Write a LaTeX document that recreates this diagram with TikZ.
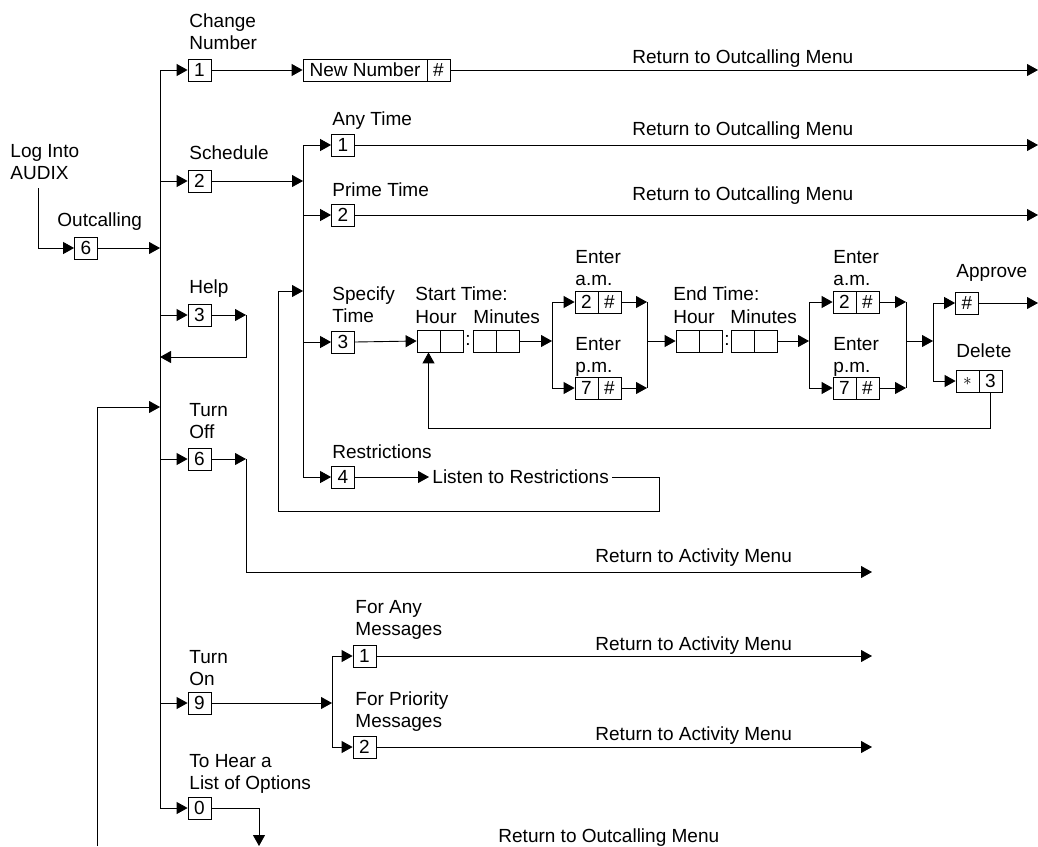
\documentclass[tikz,border=0pt]{standalone}
\usepackage{fontspec}
\setmainfont{Liberation Sans}
\usetikzlibrary{arrows.meta}

\begin{document}
\begin{tikzpicture}[x=1pt, y=-1pt, line width=0.9pt,
    every node/.style={font=\fontsize{19}{22}\selectfont},
    keybox/.style={draw, line width=0.8pt, minimum width=23pt, minimum height=22pt, inner sep=0pt},
    lbl/.style={anchor=base west, align=left, inner sep=0pt},
    arrow/.style={-{Triangle[length=11pt,width=12pt]}}
]
    \useasboundingbox (0,0) rectangle (1038,846);

    % main menu keys
    \node[keybox] (k6) at (86,248) {6};
    \node[keybox] (kc) at (199.5,70) {1};
    \node[keybox] (ks) at (199.5,181) {2};
    \node[keybox] (kh) at (199.5,315) {3};
    \node[keybox] (ko) at (199.5,459) {6};
    \node[keybox] (kn) at (199.5,703) {9};
    \node[keybox] (kz) at (199.5,808) {0};

    \node[lbl] (tlog) at (10,179) {Log Into\\AUDIX};
    \node[lbl] (tout) at (57,226) {Outcalling};
    \node[lbl] (tchg) at (189,49) {Change\\Number};
    \node[lbl] (tsch) at (189,159) {Schedule};
    \node[lbl] (thlp) at (189,293) {Help};
    \node[lbl] (toff) at (189,438) {Turn\\Off};
    \node[lbl] (ton) at (189,685) {Turn\\On};
    \node[lbl] (tlst) at (189,789) {To Hear a\\List of Options};

    % change number
    \node[keybox, minimum width=124pt] (nn) at (365,70) {New Number};
    \node[keybox] (nh) at (438.5,70) {\#};

    % schedule keys
    \node[keybox] (kat) at (343,145) {1};
    \node[keybox] (kpt) at (343,215) {2};
    \node[keybox] (ksp) at (343,342) {3};
    \node[keybox] (krs) at (343,477) {4};
    \node[lbl] (tany) at (332,125) {Any Time};
    \node[lbl] (tprm) at (332,196) {Prime Time};
    \node[lbl] (tspc) at (332,322) {Specify\\Time};
    \node[lbl] (trs) at (332,458) {Restrictions};
    \node[anchor=west, inner sep=3pt] (listen) at (429,477) {Listen to Restrictions};

    % start time
    \node[keybox] (sh1) at (428.5,341) {};
    \node[keybox] (sh2) at (451.5,341) {};
    \node (col1) at (468,340) {:};
    \node[keybox] (sm1) at (484.5,341) {};
    \node[keybox] (sm2) at (507.5,341) {};
    \node[lbl] (tst) at (415,300) {Start Time:};
    \node[lbl] (tsh) at (415,323) {Hour};
    \node[lbl] (tsm) at (473,323) {Minutes};

    \node[keybox] (am1) at (586.5,302) {2};
    \node[keybox] (am2) at (609.5,302) {\#};
    \node[keybox] (pm1) at (586.5,388) {7};
    \node[keybox] (pm2) at (609.5,388) {\#};
    \node[lbl] (tam) at (575,285) {Enter\\a.m.};
    \node[lbl] (tpm) at (575,372) {Enter\\p.m.};

    % end time
    \node[keybox] (eh1) at (687.5,341) {};
    \node[keybox] (eh2) at (710.5,341) {};
    \node (col2) at (727,340) {:};
    \node[keybox] (em1) at (742.5,341) {};
    \node[keybox] (em2) at (765.5,341) {};
    \node[lbl] (tet) at (673,300) {End Time:};
    \node[lbl] (teh) at (673,323) {Hour};
    \node[lbl] (tem) at (730,323) {Minutes};

    \node[keybox] (ea1) at (844.5,302) {2};
    \node[keybox] (ea2) at (867.5,302) {\#};
    \node[keybox] (ep1) at (844.5,388) {7};
    \node[keybox] (ep2) at (867.5,388) {\#};
    \node[lbl] (team) at (833,285) {Enter\\a.m.};
    \node[lbl] (tepm) at (833,372) {Enter\\p.m.};

    \node[keybox] (kap) at (967,303) {\#};
    \node[keybox] (kd1) at (967.5,381) {$\ast$};
    \node[keybox] (kd2) at (990.5,381) {3};
    \node[lbl] (tapp) at (956,277) {Approve};
    \node[lbl] (tdel) at (956,357) {Delete};

    % turn on
    \node[keybox] (kfa) at (364.5,656) {1};
    \node[keybox] (kfp) at (364.5,747) {2};
    \node[lbl] (tfa) at (355,635) {For Any\\Messages};
    \node[lbl] (tfp) at (355,727) {For Priority\\Messages};

    % returns
    \node[lbl] (r1) at (632,63) {Return to Outcalling Menu};
    \node[lbl] (r2) at (632,135) {Return to Outcalling Menu};
    \node[lbl] (r3) at (632,200) {Return to Outcalling Menu};
    \node[lbl] (r4) at (595,562) {Return to Activity Menu};
    \node[lbl] (r5) at (595,650) {Return to Activity Menu};
    \node[lbl] (r6) at (595,740) {Return to Activity Menu};
    \node[lbl] (r7) at (498,842) {Return to Outcalling Menu};

    % junction points
    \coordinate (logdrop) at (38,188);
    \coordinate (bt) at (160,70);
    \coordinate (bb) at (160,808);
    \coordinate (sbt) at (303,145);
    \coordinate (sbb) at (303,477);
    \coordinate (aT) at (552,302);
    \coordinate (aB) at (552,388);
    \coordinate (aRT) at (647,302);
    \coordinate (aRB) at (647,388);
    \coordinate (bT) at (809,302);
    \coordinate (bB) at (809,388);
    \coordinate (cRT) at (906,302);
    \coordinate (cRB) at (906,388);
    \coordinate (dT) at (933,303);
    \coordinate (dB) at (933,381);
    \coordinate (lp) at (700,428);
    \coordinate (rR) at (659,511);
    \coordinate (rL) at (278,291);
    \coordinate (hR) at (246,315);
    \coordinate (hb) at (160,357);
    \coordinate (lb) at (97,846);
    \coordinate (li) at (160,407);
    \coordinate (oR) at (246,459);
    \coordinate (oE) at (872,572);
    \coordinate (nT) at (332,656);
    \coordinate (nB) at (332,747);
    \coordinate (zD) at (259,846);
    \coordinate (rE) at (1038,0);

    % main bus
    \draw[arrow] (logdrop) |- (k6.west);
    \draw[arrow] (k6.east) -- (k6.east -| bt);
    \draw (bt) -- (bb);
    \foreach \k in {kc,ks,kh,ko,kn,kz}
        \draw[arrow] (\k.west -| bt) -- (\k.west);

    % change number
    \draw[arrow] (kc.east) -- (nn.west);
    \draw[arrow] (nh.east) -- (nh.east -| rE);

    % schedule
    \draw[arrow] (ks.east) -- (ks.east -| sbt);
    \draw (sbt) -- (sbb);
    \foreach \k in {kat,kpt,ksp,krs}
        \draw[arrow] (\k.west -| sbt) -- (\k.west);
    \draw[arrow] (kat.east) -- (kat.east -| rE);
    \draw[arrow] (kpt.east) -- (kpt.east -| rE);

    % specify time
    \draw[arrow] (ksp.east) -- (sh1.west);
    \draw[arrow] (sm2.east) -- (sm2.east -| aT);
    \draw (aT) -- (aB);
    \draw[arrow] (aT) -- (am1.west);
    \draw[arrow] (aB) -- (pm1.west);
    \draw[arrow] (am2.east) -- (aRT);
    \draw[arrow] (pm2.east) -- (aRB);
    \draw (aRT) -- (aRB);
    \draw[arrow] (eh1.west -| aRT) -- (eh1.west);
    \draw[arrow] (em2.east) -- (em2.east -| bT);
    \draw (bT) -- (bB);
    \draw[arrow] (bT) -- (ea1.west);
    \draw[arrow] (bB) -- (ep1.west);
    \draw[arrow] (ea2.east) -- (cRT);
    \draw[arrow] (ep2.east) -- (cRB);
    \draw (cRT) -- (cRB);
    \draw[arrow] (eh1 -| cRT) -- (eh1 -| dT);
    \draw (dT) -- (dB);
    \draw[arrow] (dT) -- (kap.west);
    \draw[arrow] (dB) -- (kd1.west);
    \draw[arrow] (kap.east) -- (kap.east -| rE);
    \draw[arrow] (kd2.south) -- (kd2.south |- lp) -| (sh1.south);

    % restrictions
    \draw[arrow] (krs.east) -- (listen.west);
    \draw[arrow] (listen.east) -| (rR) -| (rL) -- (rL -| sbt);

    % help
    \draw[arrow] (kh.east) -- (hR);
    \draw[arrow] (hR) |- (hb);

    % back into outcalling menu
    \draw[arrow] (lb) |- (li);

    % turn off
    \draw[arrow] (ko.east) -- (oR);
    \draw[arrow] (oR) |- (oE);

    % turn on
    \draw[arrow] (kn.east) -- (kn.east -| nT);
    \draw (nT) -- (nB);
    \draw[arrow] (nT) -- (kfa.west);
    \draw[arrow] (nB) -- (kfp.west);
    \draw[arrow] (kfa.east) -- (kfa.east -| oE);
    \draw[arrow] (kfp.east) -- (kfp.east -| oE);

    % list of options
    \draw[arrow] (kz.east) -| (zD);
\end{tikzpicture}
\end{document}
